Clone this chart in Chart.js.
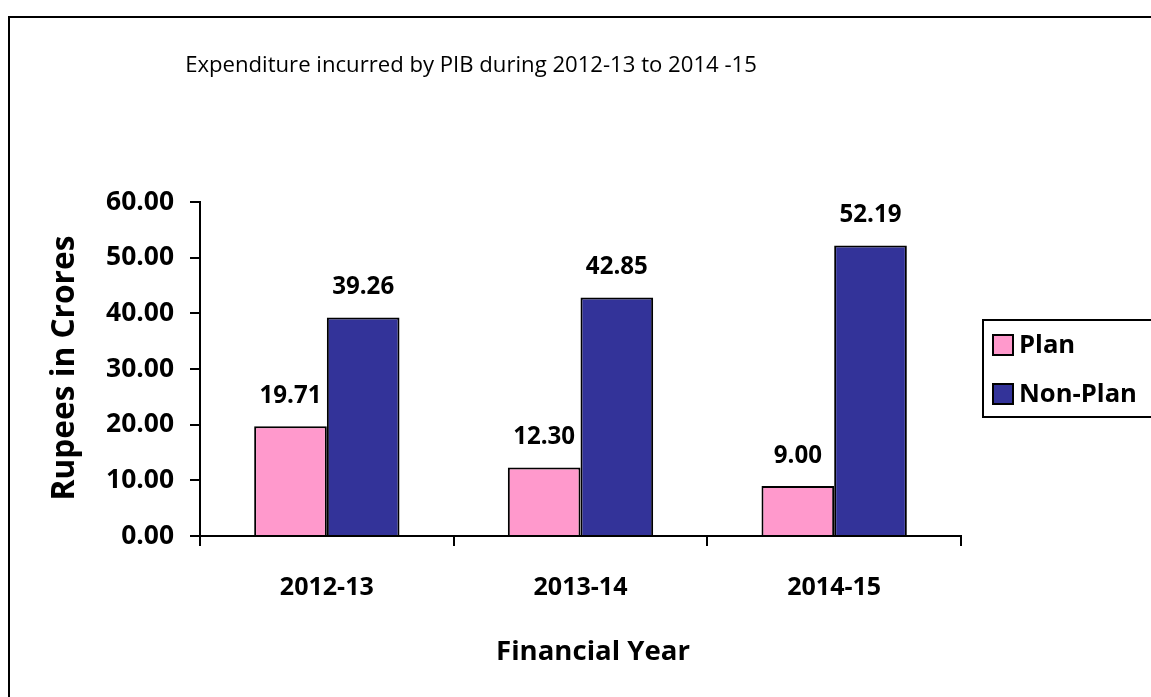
<!DOCTYPE html>
<html>
<head>
<meta charset="utf-8">
<script src="https://cdn.jsdelivr.net/npm/chart.js@4.4.1/dist/chart.umd.min.js"></script>
<style>
  html, body { margin: 0; padding: 0; background: #fff; }
  #wrap { width: 1151px; height: 697px; position: relative; }
</style>
</head>
<body>
<div id="wrap"><canvas id="c" width="1151" height="697"></canvas></div>
<script>
const categories = ['2012-13', '2013-14', '2014-15'];
const planValues = [19.71, 12.30, 9.00];
const nonPlanValues = [39.26, 42.85, 52.19];
const seriesNames = ['Plan', 'Non-Plan'];
const yTicks = [0, 10, 20, 30, 40, 50, 60];
const titleText = 'Expenditure incurred by PIB during 2012-13 to 2014 -15';
const yTitle = 'Rupees in Crores';
const xTitle = 'Financial Year';

const FONT = '"Open Sans", "Noto Sans", "Liberation Sans", sans-serif';
const colors = ['#FF99CC', '#333399'];

const mctx = document.createElement('canvas').getContext('2d');
function fitSize(text, weight, target) {
  mctx.font = weight + ' 100px ' + FONT;
  return 100 * target / mctx.measureText(text).width;
}
const sz = {
  title: fitSize(titleText, 'normal', 572),
  xTitle: fitSize(xTitle, 'bold', 194),
  yTitle: fitSize(yTitle, 'bold', 265),
  yTick: Math.min(fitSize('60.00', 'bold', 68), 27),
  xTick: fitSize('2012-13', 'bold', 94),
  label: fitSize('39.26', 'bold', 62),
  legend: fitSize('Non-Plan', 'bold', 118)
};

const decor = {
  id: 'decor',
  afterDraw(chart) {
    const ctx = chart.ctx;
    ctx.save();
    ctx.strokeStyle = '#000';
    ctx.lineWidth = 2;
    ctx.strokeRect(9, 17, 1300, 900);
    ctx.fillStyle = '#000';
    ctx.textAlign = 'center';
    ctx.textBaseline = 'middle';
    ctx.font = 'normal ' + sz.title + 'px ' + FONT;
    ctx.fillText(titleText, 471, 66);
    ctx.font = 'bold ' + sz.xTitle + 'px ' + FONT;
    ctx.fillText(xTitle, 593, 652);
    ctx.save();
    ctx.translate(65, 368);
    ctx.rotate(-Math.PI / 2);
    ctx.font = 'bold ' + sz.yTitle + 'px ' + FONT;
    ctx.fillText(yTitle, 0, 0);
    ctx.restore();
    ctx.font = 'bold ' + sz.label + 'px ' + FONT;
    chart.data.datasets.forEach((ds, di) => {
      const meta = chart.getDatasetMeta(di);
      meta.data.forEach((bar, i) => {
        ctx.fillText(ds.data[i].toFixed(2), bar.x, bar.y - 30);
      });
    });
    ctx.fillStyle = '#fff';
    ctx.fillRect(983, 320, 200, 97);
    ctx.strokeStyle = '#000';
    ctx.lineWidth = 2;
    ctx.strokeRect(983, 320, 200, 97);
    ctx.textAlign = 'left';
    ctx.font = 'bold ' + sz.legend + 'px ' + FONT;
    const rows = [345, 394];
    seriesNames.forEach((name, i) => {
      ctx.fillStyle = colors[i];
      ctx.fillRect(993, rows[i] - 10, 20, 20);
      ctx.strokeRect(993, rows[i] - 10, 20, 20);
      ctx.fillStyle = '#000';
      ctx.fillText(name, 1019, rows[i] + 1);
    });
    ctx.restore();
  }
};

new Chart(document.getElementById('c'), {
  type: 'bar',
  data: {
    labels: categories,
    datasets: [
      { label: seriesNames[0], data: planValues, backgroundColor: colors[0], borderColor: '#000', borderWidth: 2 },
      { label: seriesNames[1], data: nonPlanValues, backgroundColor: colors[1], borderColor: '#000', borderWidth: 2 }
    ]
  },
  options: {
    responsive: false,
    animation: false,
    devicePixelRatio: 1,
    categoryPercentage: 0.573,
    barPercentage: 1.0,
    layout: { padding: { left: 0, top: 202, right: 190, bottom: 0 } },
    plugins: { legend: { display: false }, title: { display: false }, tooltip: { enabled: false } },
    scales: {
      x: {
        afterFit: s => { s.height = 161; },
        grid: { drawOnChartArea: false, color: '#000', lineWidth: 2, tickLength: 10, offset: true },
        border: { display: true, color: '#000', width: 2 },
        ticks: { color: '#000', font: { family: FONT, size: sz.xTick, weight: 'bold' }, padding: 27 }
      },
      y: {
        min: 0, max: 60,
        afterFit: s => { s.width = 200; },
        afterBuildTicks: s => { s.ticks = yTicks.map(v => ({ value: v })); },
        grid: { drawOnChartArea: false, color: '#000', lineWidth: 2, tickLength: 10 },
        border: { display: true, color: '#000', width: 2 },
        ticks: { color: '#000', font: { family: FONT, size: sz.yTick, weight: 'bold' }, padding: 16,
                 callback: v => Number(v).toFixed(2) }
      }
    }
  },
  plugins: [decor]
});
</script>
</body>
</html>
